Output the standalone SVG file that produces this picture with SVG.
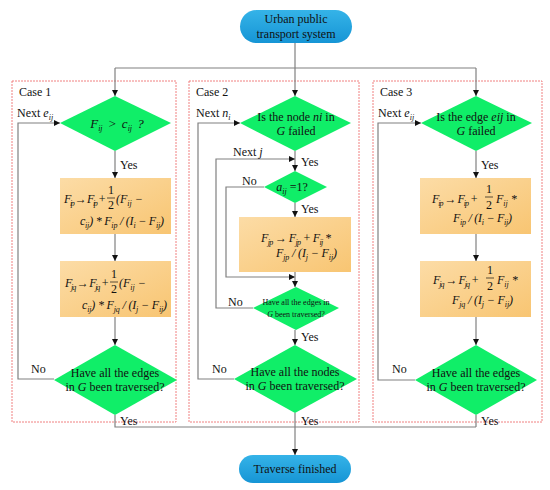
<svg xmlns="http://www.w3.org/2000/svg" width="550" height="490" viewBox="0 0 550 490">
<defs>
<style>
.t{font-family:"Liberation Serif","Times New Roman",serif;font-size:12px;fill:#111}
.m{font-family:"Liberation Serif","Times New Roman",serif;font-size:12px;fill:#111;font-style:italic}
.s{font-size:8px}
.sm{font-size:8px}
.c{stroke:#808080;stroke-width:1.2;fill:none}
.case{fill:none;stroke:#F08080;stroke-width:1;stroke-dasharray:2,1}
.dia{fill:#10EE68}
.box{fill:url(#og)}
.term{fill:url(#bg)}
.fb{stroke:#111;stroke-width:0.7}
</style>
<linearGradient id="og" x1="0" y1="0" x2="1" y2="1">
<stop offset="0" stop-color="#FCDCA6"/>
<stop offset="1" stop-color="#F8C572"/>
</linearGradient>
<linearGradient id="bg" x1="0" y1="0" x2="0" y2="1">
<stop offset="0" stop-color="#35B3E8"/>
<stop offset="1" stop-color="#1695D5"/>
</linearGradient>
<marker id="a" markerWidth="6" markerHeight="6" refX="6" refY="3" orient="auto" markerUnits="userSpaceOnUse">
<path d="M0,0 L6,3 L0,6 z" fill="#111"/>
</marker>
</defs>
<rect width="550" height="490" fill="#fff"/>

<g id="cases">
<rect class="case" x="12" y="81" width="164" height="341"/>
<rect class="case" x="189" y="81" width="170" height="341"/>
<rect class="case" x="373" y="81" width="169" height="341"/>
<text class="t" x="19" y="96">Case 1</text>
<text class="t" x="196" y="96">Case 2</text>
<text class="t" x="380" y="96">Case 3</text>
</g>

<g id="connectors">
<path class="c" d="M295,43 V68"/>
<path class="c" d="M115,68 H476"/>
<path class="c" d="M115,68 V96" marker-end="url(#a)"/>
<path class="c" d="M295,68 V96" marker-end="url(#a)"/>
<path class="c" d="M476,68 V96" marker-end="url(#a)"/>
<path class="c" d="M115,151 V178" marker-end="url(#a)"/>
<path class="c" d="M115,234 V261" marker-end="url(#a)"/>
<path class="c" d="M115,317 V345" marker-end="url(#a)"/>
<path class="c" d="M54,379 H18 V123 H60" marker-end="url(#a)"/>
<path class="c" d="M115,415 V427 H476"/>
<path class="c" d="M295,151 V171" marker-end="url(#a)"/>
<path class="c" d="M253,308 H216 V159 H295" marker-end="url(#a)"/>
<path class="c" d="M264,187 H226 V277 H295" marker-end="url(#a)"/>
<path class="c" d="M295,203 V217" marker-end="url(#a)"/>
<path class="c" d="M295,272 V287" marker-end="url(#a)"/>
<path class="c" d="M295,330 V345" marker-end="url(#a)"/>
<path class="c" d="M234,379 H198 V123 H240" marker-end="url(#a)"/>
<path class="c" d="M295,413 V455" marker-end="url(#a)"/>
<path class="c" d="M476,151 V178" marker-end="url(#a)"/>
<path class="c" d="M476,234 V261" marker-end="url(#a)"/>
<path class="c" d="M476,317 V345" marker-end="url(#a)"/>
<path class="c" d="M415,380 H378 V123 H421" marker-end="url(#a)"/>
<path class="c" d="M476,415 V427"/>
<text class="t" x="17" y="117">Next <tspan font-style="italic">e</tspan><tspan class="s" font-style="italic" dy="3">ij</tspan></text>
<text class="t" x="196" y="117">Next <tspan font-style="italic">n</tspan><tspan class="s" font-style="italic" dy="3">i</tspan></text>
<text class="t" x="378" y="117">Next <tspan font-style="italic">e</tspan><tspan class="s" font-style="italic" dy="3">ij</tspan></text>
<text class="t" x="233" y="156">Next <tspan font-style="italic">j</tspan></text>
<text class="t" x="120" y="169">Yes</text>
<text class="t" x="301" y="166">Yes</text>
<text class="t" x="301" y="213">Yes</text>
<text class="t" x="301" y="341">Yes</text>
<text class="t" x="481" y="169">Yes</text>
<text class="t" x="120" y="425">Yes</text>
<text class="t" x="301" y="425">Yes</text>
<text class="t" x="481" y="425">Yes</text>
<text class="t" x="31" y="373">No</text>
<text class="t" x="212" y="373">No</text>
<text class="t" x="392" y="373">No</text>
<text class="t" x="228" y="306">No</text>
<text class="t" x="242" y="185">No</text>
</g>

<g id="start">
<rect class="term" x="240" y="10" width="112" height="33" rx="16.5"/>
<text class="t" x="296" y="23" text-anchor="middle">Urban public</text>
<text class="t" x="296" y="38" text-anchor="middle">transport system</text>
</g>

<g id="end">
<rect class="term" x="239" y="455" width="112" height="28" rx="14"/>
<text class="t" x="295" y="473" text-anchor="middle">Traverse finished</text>
</g>

<g id="c1-dec">
<polygon class="dia" points="60,123 115,96 171,123 115,151"/>
<text class="m" x="117" y="128" text-anchor="middle" style="font-size:13px;word-spacing:2px">F<tspan class="s" dy="3">ij</tspan><tspan dy="-3"> &gt; c</tspan><tspan class="s" dy="3">ij</tspan><tspan dy="-3"> ?</tspan></text>
</g>
<g id="c1-box1">
<rect class="box" x="60" y="178" width="111" height="56"/>
<text class="m" x="64" y="203" textLength="42" lengthAdjust="spacing">F<tspan class="s" dy="3">ip</tspan><tspan dy="-3"> → F</tspan><tspan class="s" dy="3">ip</tspan><tspan dy="-3"> +</tspan></text>
<text class="t" x="111" y="194" text-anchor="middle">1</text>
<line class="fb" x1="107" y1="198" x2="115" y2="198"/>
<text class="t" x="111" y="209" text-anchor="middle">2</text>
<text class="m" x="116" y="203">(F<tspan class="s" dy="3">ij</tspan><tspan dy="-3"> −</tspan></text>
<text class="m" x="80" y="225" textLength="84" lengthAdjust="spacing">c<tspan class="s" dy="3">ij</tspan><tspan dy="-3">) * F</tspan><tspan class="s" dy="3">ip</tspan><tspan dy="-3"> / (I</tspan><tspan class="s" dy="3">i</tspan><tspan dy="-3"> − F</tspan><tspan class="s" dy="3">ij</tspan><tspan dy="-3">)</tspan></text>
</g>
<g id="c1-box2">
<rect class="box" x="60" y="261" width="111" height="56"/>
<text class="m" x="65" y="287" textLength="44" lengthAdjust="spacing">F<tspan class="s" dy="3">jq</tspan><tspan dy="-3"> → F</tspan><tspan class="s" dy="3">jq</tspan><tspan dy="-3"> +</tspan></text>
<text class="t" x="114" y="278" text-anchor="middle">1</text>
<line class="fb" x1="110" y1="282" x2="118" y2="282"/>
<text class="t" x="114" y="293" text-anchor="middle">2</text>
<text class="m" x="119" y="287">(F<tspan class="s" dy="3">ij</tspan><tspan dy="-3"> −</tspan></text>
<text class="m" x="82" y="309" textLength="85" lengthAdjust="spacing">c<tspan class="s" dy="3">ij</tspan><tspan dy="-3">) * F</tspan><tspan class="s" dy="3">jq</tspan><tspan dy="-3"> / (I</tspan><tspan class="s" dy="3">j</tspan><tspan dy="-3"> − F</tspan><tspan class="s" dy="3">ij</tspan><tspan dy="-3">)</tspan></text>
</g>
<g id="c1-end">
<polygon class="dia" points="54,380 115,345 177,380 115,415"/>
<text class="t" x="115" y="377" text-anchor="middle">Have all the edges</text>
<text class="t" x="115" y="391" text-anchor="middle">in <tspan font-style="italic">G</tspan> been traversed?</text>
</g>

<g id="c2-dec">
<polygon class="dia" points="240,123 295,96 351,123 295,151"/>
<text class="t" x="296" y="121" text-anchor="middle">Is the node <tspan font-style="italic">ni</tspan>  in</text>
<text class="t" x="296" y="135" text-anchor="middle"><tspan font-style="italic">G</tspan> failed</text>
</g>
<g id="c2-aij">
<polygon class="dia" points="264,187 295,171 327,187 295,203"/>
<text class="m" x="292" y="191" text-anchor="middle">a<tspan class="s" dy="3">ij</tspan><tspan dy="-3" font-style="normal"> =1?</tspan></text>
</g>
<g id="c2-box">
<rect class="box" x="239" y="217" width="112" height="55"/>
<text class="m" x="261" y="242" textLength="70" lengthAdjust="spacing">F<tspan class="s" dy="3">jp</tspan><tspan dy="-3"> → F</tspan><tspan class="s" dy="3">jp</tspan><tspan dy="-3"> + F</tspan><tspan class="s" dy="3">ij</tspan><tspan dy="-3"> *</tspan></text>
<text class="m" x="276" y="257" textLength="61" lengthAdjust="spacing">F<tspan class="s" dy="3">jp</tspan><tspan dy="-3"> / (I</tspan><tspan class="s" dy="3">j</tspan><tspan dy="-3"> − F</tspan><tspan class="s" dy="3">ij</tspan><tspan dy="-3">)</tspan></text>
</g>
<g id="c2-edges">
<polygon class="dia" points="253,308 296,287 339,308 296,330"/>
<text class="t sm" x="296" y="305" text-anchor="middle">Have all the edges in</text>
<text class="t sm" x="296" y="317" text-anchor="middle"><tspan font-style="italic">G</tspan> been traversed?</text>
</g>
<g id="c2-end">
<polygon class="dia" points="234,379 295,345 357,379 295,413"/>
<text class="t" x="295" y="376" text-anchor="middle">Have all the nodes</text>
<text class="t" x="295" y="390" text-anchor="middle">in <tspan font-style="italic">G</tspan> been traversed?</text>
</g>

<g id="c3-dec">
<polygon class="dia" points="421,123 476,96 532,123 476,151"/>
<text class="t" x="476" y="121" text-anchor="middle">Is the edge <tspan font-style="italic">eij</tspan> in</text>
<text class="t" x="476" y="135" text-anchor="middle"><tspan font-style="italic">G</tspan> failed</text>
</g>
<g id="c3-box1">
<rect class="box" x="420" y="178" width="111" height="56"/>
<text class="m" x="432" y="203" textLength="46" lengthAdjust="spacing">F<tspan class="s" dy="3">ip</tspan><tspan dy="-3"> → F</tspan><tspan class="s" dy="3">ip</tspan><tspan dy="-3"> +</tspan></text>
<text class="t" x="489" y="193" text-anchor="middle">1</text>
<line class="fb" x1="485" y1="197" x2="493" y2="197"/>
<text class="t" x="489" y="209" text-anchor="middle">2</text>
<text class="m" x="496" y="203">F<tspan class="s" dy="3">ij</tspan><tspan dy="-3"> *</tspan></text>
<text class="m" x="453" y="222" textLength="59" lengthAdjust="spacing">F<tspan class="s" dy="3">ip</tspan><tspan dy="-3"> / (I</tspan><tspan class="s" dy="3">i</tspan><tspan dy="-3"> − F</tspan><tspan class="s" dy="3">ij</tspan><tspan dy="-3">)</tspan></text>
</g>
<g id="c3-box2">
<rect class="box" x="420" y="261" width="111" height="56"/>
<text class="m" x="433" y="284" textLength="46" lengthAdjust="spacing">F<tspan class="s" dy="3">jq</tspan><tspan dy="-3"> → F</tspan><tspan class="s" dy="3">jq</tspan><tspan dy="-3"> +</tspan></text>
<text class="t" x="490" y="274" text-anchor="middle">1</text>
<line class="fb" x1="486" y1="278" x2="494" y2="278"/>
<text class="t" x="490" y="290" text-anchor="middle">2</text>
<text class="m" x="497" y="284">F<tspan class="s" dy="3">ij</tspan><tspan dy="-3"> *</tspan></text>
<text class="m" x="452" y="304" textLength="61" lengthAdjust="spacing">F<tspan class="s" dy="3">jq</tspan><tspan dy="-3"> / (I</tspan><tspan class="s" dy="3">j</tspan><tspan dy="-3"> − F</tspan><tspan class="s" dy="3">ij</tspan><tspan dy="-3">)</tspan></text>
</g>
<g id="c3-end">
<polygon class="dia" points="415,380 476,345 537,380 476,415"/>
<text class="t" x="476" y="377" text-anchor="middle">Have all the edges</text>
<text class="t" x="476" y="391" text-anchor="middle">in <tspan font-style="italic">G</tspan> been traversed?</text>
</g>
</svg>
